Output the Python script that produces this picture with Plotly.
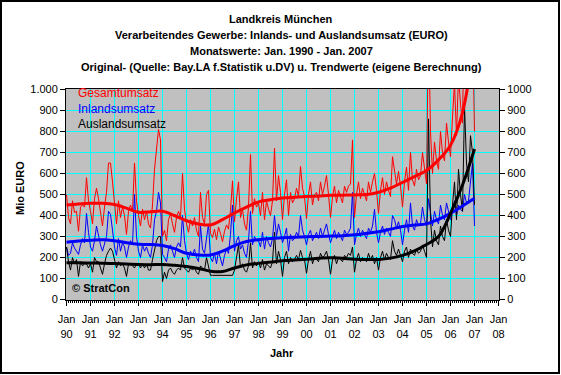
import plotly.graph_objects as go

# Monthly values Jan 1990 .. Jan 2007 (Mio EURO)
inland = [
    250, 210, 220, 270, 245, 230, 215, 260, 290, 270, 410, 320,
    250, 230, 280, 350, 300, 260, 230, 270, 300, 420, 405, 330,
    250, 210, 290, 230, 270, 250, 200, 250, 280, 260, 500, 300,
    230, 200, 260, 230, 250, 220, 200, 260, 380, 420, 510, 460,
    215, 200, 180, 240, 260, 230, 200, 250, 270, 250, 400, 280,
    220, 190, 230, 210, 240, 200, 180, 350, 240, 220, 300, 360,
    200, 180, 220, 170, 230, 200, 160, 210, 240, 220, 310, 450,
    230, 280, 300, 240, 260, 220, 200, 280, 420, 260, 300, 280,
    280, 250, 320, 240, 300, 270, 250, 290, 400, 300, 360, 320,
    270, 300, 340, 230, 310, 280, 290, 320, 300, 400, 330, 300,
    260, 310, 330, 280, 300, 320, 290, 340, 300, 330, 360, 310,
    270, 300, 330, 290, 320, 300, 280, 330, 310, 320, 340, 510,
    260, 310, 340, 300, 330, 310, 290, 340, 320, 350, 430, 320,
    270, 320, 350, 310, 340, 320, 300, 400, 380, 340, 370, 330,
    260, 330, 380, 320, 460, 350, 330, 380, 350, 360, 440, 380,
    350, 480, 420, 350, 420, 380, 360, 450, 400, 380, 460, 420,
    380, 420, 470, 400, 450, 430, 420, 500, 460, 470, 560, 650,
    350,
]
ausland = [
    250, 180, 140, 200, 170, 190, 110, 180, 160, 170, 170, 150,
    170, 130, 200, 180, 180, 150, 120, 170, 210, 230, 245, 230,
    190, 150, 180, 160, 170, 150, 110, 170, 170, 160, 150, 170,
    170, 150, 170, 150, 170, 140, 140, 190, 240, 280, 300, 300,
    85, 130, 100, 140, 150, 130, 120, 140, 150, 140, 200, 150,
    140, 130, 150, 140, 150, 130, 120, 160, 150, 140, 200, 160,
    115, 115, 115, 115, 115, 115, 115, 115, 115, 115, 115, 115,
    140, 200, 260, 150, 170, 140, 130, 160, 270, 150, 180, 160,
    180, 150, 190, 140, 170, 160, 150, 180, 320, 170, 230, 190,
    110, 200, 230, 170, 200, 180, 190, 210, 190, 234, 200, 190,
    125, 190, 230, 170, 200, 190, 180, 220, 200, 210, 230, 190,
    120, 190, 210, 170, 200, 190, 180, 210, 200, 220, 210, 250,
    130, 190, 220, 180, 200, 190, 180, 220, 190, 210, 170, 200,
    140, 200, 230, 190, 220, 200, 190, 280, 230, 210, 240, 210,
    180, 230, 250, 200, 240, 220, 210, 240, 220, 230, 260, 230,
    200, 860, 380, 250, 330, 280, 260, 350, 300, 280, 380, 330,
    300, 450, 560, 380, 620, 500, 420, 920, 650, 560, 780, 700,
    450,
]
gesamt = [
    500, 390, 360, 470, 415, 420, 325, 440, 450, 440, 580, 470,
    420, 360, 480, 530, 480, 410, 350, 440, 510, 650, 650, 560,
    440, 360, 470, 390, 440, 400, 310, 420, 450, 420, 650, 470,
    400, 350, 430, 380, 420, 360, 340, 450, 620, 700, 810, 760,
    300, 330, 280, 380, 410, 360, 320, 390, 420, 390, 600, 430,
    360, 320, 380, 350, 390, 330, 300, 510, 390, 360, 500, 520,
    315, 295, 335, 285, 345, 315, 275, 325, 355, 335, 425, 565,
    370, 480, 560, 390, 430, 360, 330, 440, 690, 410, 480, 440,
    460, 400, 510, 380, 470, 430, 400, 470, 720, 470, 590, 510,
    380, 500, 570, 400, 510, 460, 480, 530, 490, 634, 530, 490,
    385, 500, 560, 450, 500, 510, 470, 560, 500, 540, 590, 500,
    390, 490, 540, 460, 520, 490, 460, 540, 510, 540, 550, 760,
    390, 500, 560, 480, 530, 500, 470, 560, 510, 560, 600, 520,
    410, 520, 580, 500, 560, 520, 490, 680, 610, 550, 610, 540,
    440, 560, 630, 520, 700, 570, 540, 620, 570, 590, 700, 610,
    550, 1340, 800, 600, 750, 660, 620, 800, 700, 660, 840, 750,
    680, 870, 1030, 780, 1070, 930, 840, 1420, 1110, 1030, 1340, 1350,
    800,
]

# Trend values at half-year steps (Jan 1990, Jul 1990, ..., Jan 2007)
trend_gesamt = [450, 455, 458, 458, 452, 435, 415, 418, 420, 400, 375, 360, 355, 380,
                412, 440, 465, 475, 483, 487, 490, 493, 496, 497, 498, 500, 511, 530,
                558, 585, 614, 665, 735, 890, 1250]
trend_inland = [273, 278, 282, 285, 280, 270, 263, 262, 257, 242, 220, 212, 212, 230,
                257, 276, 285, 290, 294, 297, 299, 300, 302, 304, 308, 315, 323, 335,
                348, 355, 360, 382, 410, 445, 482]
trend_ausland = [175, 175, 174, 173, 171, 169, 167, 166, 167, 163, 157, 148, 135, 133,
                 150, 165, 172, 178, 184, 188, 192, 196, 199, 196, 192, 190, 191, 197,
                 210, 232, 262, 300, 410, 545, 717]

year_labels = ["90", "91", "92", "93", "94", "95", "96", "97", "98", "99",
               "00", "01", "02", "03", "04", "05", "06", "07", "08"]
left_ticks = [0, 100, 200, 300, 400, 500, 600, 700, 800, 900, 1000]
left_text = ["0", "100", "200", "300", "400", "500", "600", "700", "800", "900", "1.000"]

months = list(range(len(gesamt)))
trend_x = [6 * k for k in range(len(trend_gesamt))]

FONT = "Liberation Sans, Arial, sans-serif"
W, H = 561, 375
L, T = 66, 89
PW, PH = 433, 211          # 24 px per year, 21 px per 100 (+1 px for crisp grid lines)
R, B = W - L - PW, H - T - PH
XPAD = 0.25                # half a pixel in months
YPAD = 1000 / 210 / 2      # half a pixel in Mio EURO


def px(x):
    return (x - L) / PW


def py(y):
    return (T + PH - y) / PH


fig = go.Figure()
fig.add_trace(go.Scatter(x=months, y=gesamt, mode="lines",
                         line=dict(color="#FF0000", width=1), hoverinfo="skip"))
fig.add_trace(go.Scatter(x=months, y=inland, mode="lines",
                         line=dict(color="#0000FF", width=1), hoverinfo="skip"))
fig.add_trace(go.Scatter(x=months, y=ausland, mode="lines",
                         line=dict(color="#000000", width=1), hoverinfo="skip"))
fig.add_trace(go.Scatter(x=trend_x, y=trend_gesamt, mode="lines",
                         line=dict(color="#FF0000", width=3, shape="spline"), hoverinfo="skip"))
fig.add_trace(go.Scatter(x=trend_x, y=trend_inland, mode="lines",
                         line=dict(color="#0000FF", width=3, shape="spline"), hoverinfo="skip"))
fig.add_trace(go.Scatter(x=trend_x, y=trend_ausland, mode="lines",
                         line=dict(color="#000000", width=3, shape="spline"), hoverinfo="skip"))
# invisible trace to anchor the right axis
fig.add_trace(go.Scatter(x=[months[0]], y=[left_ticks[0]], yaxis="y2", mode="markers",
                         marker=dict(opacity=0), hoverinfo="skip"))

yrange = [-YPAD, 1000 + YPAD]
fig.update_layout(
    width=W, height=H,
    margin=dict(l=L, r=R, t=T, b=B, pad=0),
    paper_bgcolor="white",
    plot_bgcolor="#C0C0C0",
    showlegend=False,
    hovermode=False,
    font=dict(family=FONT, size=11, color="black"),
    xaxis=dict(
        range=[-XPAD, 216 + XPAD],
        tickvals=[12 * i for i in range(len(year_labels))],
        ticktext=["Jan<br>" + y for y in year_labels],
        ticks="outside", ticklen=5, tickcolor="black",
        ticklabelstandoff=4,
        showline=True, linecolor="black", linewidth=1, mirror=True,
        showgrid=True, gridcolor="#00FFFF", gridwidth=1,
        minor=dict(dtick=1, tick0=0, ticks="outside", ticklen=2, tickcolor="black", showgrid=False),
        zeroline=False, fixedrange=True,
        tickfont=dict(size=11),
    ),
    yaxis=dict(
        range=yrange,
        tickvals=left_ticks, ticktext=left_text,
        ticks="outside", ticklen=5, tickcolor="black",
        showline=True, linecolor="black", linewidth=1,
        showgrid=True, gridcolor="#00FFFF", gridwidth=1,
        zeroline=False, fixedrange=True,
        tickfont=dict(size=11),
    ),
    yaxis2=dict(
        range=yrange, overlaying="y", side="right",
        tickvals=left_ticks, ticktext=[str(v) for v in left_ticks],
        ticks="outside", ticklen=5, tickcolor="black",
        showline=True, linecolor="black", linewidth=1,
        showgrid=False, zeroline=False, fixedrange=True,
        tickfont=dict(size=11),
    ),
)

titles = ["Landkreis München",
          "Verarbeitendes Gewerbe: Inlands- und Auslandsumsatz (EURO)",
          "Monatswerte: Jan. 1990 - Jan. 2007",
          "Original- (Quelle: Bay.LA f.Statistik u.DV) u. Trendwerte (eigene Berechnung)"]
title_y = [19, 35, 51, 67]
for t, yy in zip(titles, title_y):
    fig.add_annotation(text="<b>%s</b>" % t, x=px(281), y=py(yy), xref="paper", yref="paper",
                       showarrow=False, xanchor="center", yanchor="middle",
                       font=dict(size=11, color="black"))

legend = [("Gesamtumsatz", "#FF0000", 93), ("Inlandsumsatz", "#0000FF", 109),
          ("Auslandsumsatz", "#000000", 124)]
for t, c, yy in legend:
    fig.add_annotation(text=t, x=px(76), y=py(yy), xref="paper", yref="paper",
                       showarrow=False, xanchor="left", yanchor="middle",
                       font=dict(size=12, color=c))

fig.add_annotation(text="<b>© StratCon</b>", x=px(70), y=py(288), xref="paper", yref="paper",
                   showarrow=False, xanchor="left", yanchor="middle",
                   font=dict(size=11, color="black"))
fig.add_annotation(text="<b>Jahr</b>", x=px(282), y=py(353), xref="paper", yref="paper",
                   showarrow=False, xanchor="center", yanchor="middle",
                   font=dict(size=11, color="black"))
fig.add_annotation(text="<b>Mio EURO</b>", x=px(20), y=py(188), xref="paper", yref="paper",
                   showarrow=False, xanchor="center", yanchor="middle", textangle=-90,
                   font=dict(size=11, color="black"))

# outer chart border
fig.add_shape(type="rect", xref="paper", yref="paper",
              x0=px(1), x1=px(559), y0=py(373), y1=py(1),
              line=dict(color="black", width=2), fillcolor="rgba(0,0,0,0)", layer="above")

fig.write_html("out.html",
               config={"displayModeBar": False, "staticPlot": True},
               post_script="document.body.style.margin='0';document.body.style.padding='0';")
